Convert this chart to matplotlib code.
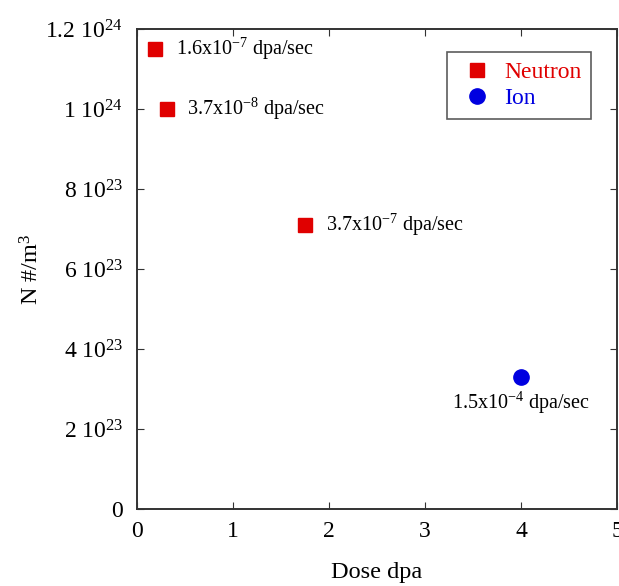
import matplotlib.pyplot as plt
from matplotlib.ticker import FuncFormatter

plt.rcParams['font.family'] = 'Liberation Serif'
plt.rcParams['mathtext.fontset'] = 'custom'
plt.rcParams['mathtext.rm'] = 'Liberation Serif'
plt.rcParams['mathtext.default'] = 'regular'

# neutron irradiations
neutron_dose = [0.19, 0.31, 1.75]
neutron_N = [1.15e24, 1.0e24, 7.1e23]
neutron_rate = ["1.6x10$^{-7}$ dpa/sec", "3.7x10$^{-8}$ dpa/sec", "3.7x10$^{-7}$ dpa/sec"]

# ion irradiation
ion_dose = [4.0]
ion_N = [3.3e23]
ion_rate = ["1.5x10$^{-4}$ dpa/sec"]

y_ticks = [0, 2e23, 4e23, 6e23, 8e23, 1e24, 1.2e24]

def ylab(v, pos):
    if v == 0:
        return "0"
    e = len(str(int(round(v / 1e22)))) + 21
    m = v / 10**e
    m = ("%.1f" % m).rstrip("0").rstrip(".")
    return m + " 10$^{%d}$" % e

fig = plt.figure(figsize=(6.19, 5.86), dpi=100)
ax = fig.add_axes([0.221, 0.1314, 0.776, 0.8191])

ax.plot(neutron_dose, neutron_N, 's', color='#e00000', markersize=10.5, label='Neutron')
ax.plot(ion_dose, ion_N, 'o', color='#0000e0', markersize=11, label='Ion')

for x, y, t in zip(neutron_dose, neutron_N, neutron_rate):
    ax.annotate(t, (x, y), xytext=(15, 0), textcoords='offset points',
                va='center', ha='left', fontsize=14.5)
for x, y, t in zip(ion_dose, ion_N, ion_rate):
    ax.annotate(t, (x, y), xytext=(0, -9), textcoords='offset points',
                va='top', ha='center', fontsize=14.5)

ax.set_xlim(0, 5)
ax.set_ylim(0, 1.2e24)
ax.set_yticks(y_ticks)
ax.yaxis.set_major_formatter(FuncFormatter(ylab))
ax.tick_params(direction='in', top=True, right=True, length=5, labelsize=17,
               color='#333333')
ax.tick_params(axis='y', pad=10)
ax.tick_params(axis='x', pad=9)
for s in ax.spines.values():
    s.set_linewidth(1.4)
    s.set_color('#333333')

ax.set_xlabel("Dose dpa", fontsize=17.5, labelpad=14)
ax.set_ylabel("N #/m$^3$", fontsize=17.5, labelpad=1)

leg = ax.legend(loc='upper right', bbox_to_anchor=(0.946, 0.952), fontsize=17,
                fancybox=False, edgecolor='#333333', handletextpad=0.25,
                borderpad=0.4, handlelength=1.8, labelspacing=0.2,
                borderaxespad=0)
leg.get_frame().set_linewidth(1.2)
for txt, c in zip(leg.get_texts(), ['#e00000', '#0000e0']):
    txt.set_color(c)

plt.savefig("out.png", dpi=100)
